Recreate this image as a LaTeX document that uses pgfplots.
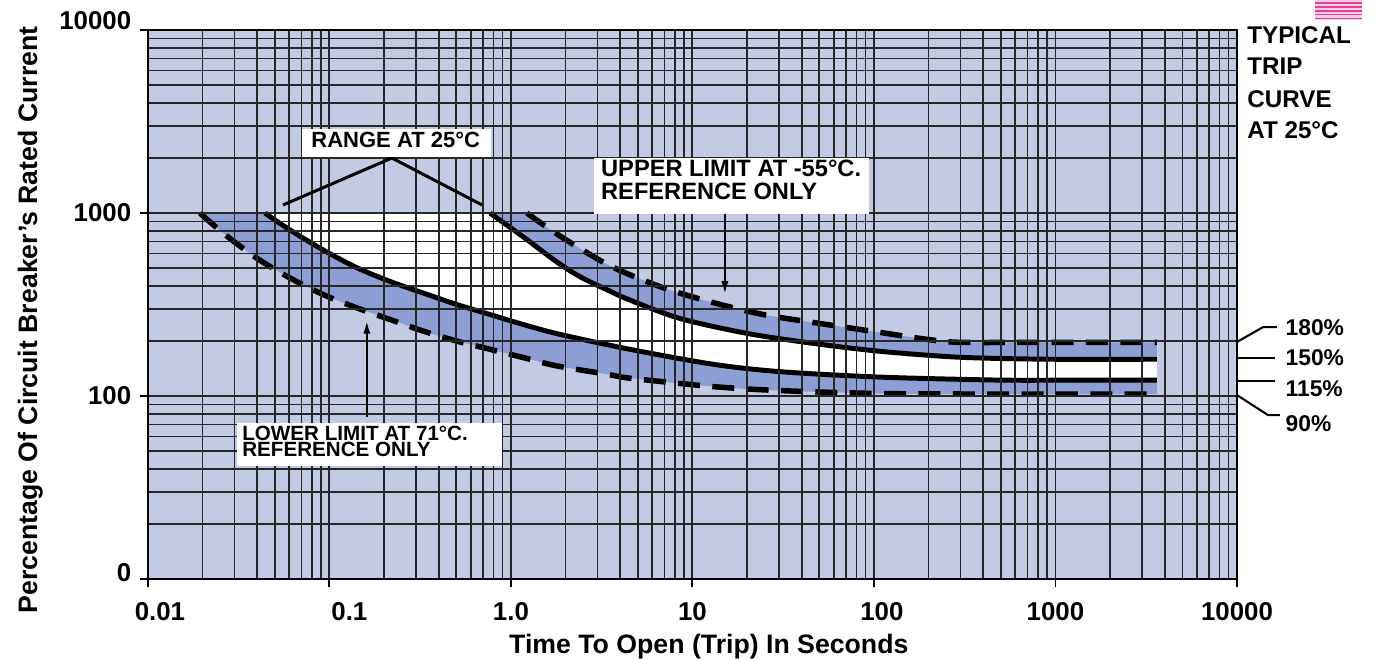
\documentclass[border=0pt]{standalone}
\usepackage{pgfplots}
\pgfplotsset{compat=1.18}
\usepgfplotslibrary{fillbetween}
\usetikzlibrary{arrows.meta}
\usepackage{fontspec}
\setmainfont{Liberation Sans}
\definecolor{bgblue}{RGB}{195,203,228}
\definecolor{bandblue}{RGB}{140,158,212}
\definecolor{pinkline}{RGB}{232,64,150}
\begin{document}
\begin{tikzpicture}
\begin{axis}[
  at={(0pt,0pt)}, anchor=south west,
  scale only axis, width=396pt, height=199.6pt,
  xmode=log, ymode=log,
  xmin=0.01, xmax=10000, ymin=10, ymax=10000,
  axis background/.style={fill=bgblue},
  axis on top,
  grid=both,
  major grid style={black!85, line width=0.7pt},
  minor grid style={black!85, line width=0.6pt},
  axis line style={black, line width=0.7pt},
  xtick={0.01,0.1,1,10,100,1000,10000},
  xticklabels={\hspace{8.7pt}0.01,\hspace{14.5pt}0.1,1.0,10,\hspace{5.8pt}100,1000,10000},
  ytick={10,100,1000,10000},
  yticklabels={\raisebox{5pt}{0},100,1000,\raisebox{7pt}{10000}},
  minor xtick={0.02,0.03,0.04,0.05,0.06,0.07,0.08,0.09,0.2,0.3,0.4,0.5,0.6,0.7,0.8,0.9,2,3,4,5,6,7,8,9,20,30,40,50,60,70,80,90,200,300,400,500,600,700,800,900,2000,3000,4000,5000,6000,7000,8000,9000},
  minor ytick={20,30,40,50,60,70,80,90,200,300,400,500,600,700,800,900,2000,3000,4000,5000,6000,7000,8000,9000},
  tick align=outside, major tick length=3pt, minor tick length=0pt,
  xtick pos=bottom, ytick pos=left,
  tick style={black, line width=0.7pt},
  ticklabel style={font=\bfseries\fontsize{9.4}{10}\selectfont},
  xticklabel style={anchor=base, inner sep=0pt, yshift=-12pt},
  yticklabel style={anchor=east, inner sep=0pt, xshift=-2.9pt},
  xlabel={Time To Open (Trip) In Seconds},
  ylabel={Percentage Of Circuit Breaker’s Rated Current},
  label style={font=\bfseries\fontsize{9.7}{10}\selectfont},
  xlabel style={at={(axis description cs:0.515,-0.124)}, anchor=center},
  ylabel style={at={(axis description cs:-0.108,0.472)}, anchor=center},
]
% lower limit at 71C (dashed)
\addplot[black, line width=2pt, dash pattern=on 8pt off 4.5pt, smooth, name path=LD] coordinates {
(0.01934,1000) (0.02600,775.6) (0.03971,567.3) (0.06059,441.7) (0.09243,358.3) (0.1412,303.5) (0.2154,262.1) (0.3286,226.4) (0.5022,199.8) (0.7663,180.0) (1.169,162.3) (1.785,146.1) (3.368,131.7) (4.524,125.2) (12.97,112.6) (30.35,107.1) (107.9,103.2) (494.6,102.5) (1365,102.5) (3624,102.5)};
% 25C lower (solid)
\addplot[black, line width=1.8pt, smooth, name path=LS] coordinates {
(0.0441,1000) (0.06059,808.5) (0.09209,629.4) (0.1417,502.5) (0.2154,423.2) (0.3274,366.0) (0.5042,316.2) (0.7663,279.0) (1.1644,246.2) (1.862,217.3) (4.524,180.0) (12.97,149.2) (30.35,135.9) (107.9,126.9) (494.6,122.2) (1365,122.2) (3624,122.2)};
% 25C upper (solid)
\addplot[black, line width=1.8pt, smooth, name path=US] coordinates {
(0.7663,1000) (1.1644,743.2) (1.785,541.6) (2.400,449.0) (3.368,381.5) (4.524,334.5) (8.534,265.4) (19.97,220.0) (46.12,194.1) (107.9,175.6) (297.7,162.9) (932.6,158.9) (3624,158.9)};
% upper limit at -55C (dashed)
\addplot[black, line width=2pt, dash pattern=on 8pt off 4.5pt, smooth, name path=UD] coordinates {
(1.225,1000) (1.862,749.9) (3.512,515.2) (6.878,391.2) (12.97,324.3) (24.45,279.0) (46.12,252.5) (107.9,222.7) (195.9,204.1) (297.7,196.6) (932.6,196.6) (3624,196.6)};
\addplot[bandblue] fill between[of=LS and LD];
\addplot[white] fill between[of=LS and US];
\addplot[bandblue] fill between[of=US and UD];
\end{axis}
\begin{pgfonlayer}{axis foreground}
% RANGE AT 25C
\draw[line width=1.1pt] (49.1pt,136pt) -- (88.7pt,153.1pt) -- (121.5pt,136pt);
\fill[white] (56pt,153.5pt) rectangle (124.7pt,163.6pt);
\node[anchor=base, inner sep=0pt, font=\bfseries\fontsize{8}{8}\selectfont] at (90.1pt,156.9pt) {RANGE AT 25°C};
% upper limit box
\fill[white] (162.2pt,132.7pt) rectangle (262.2pt,153.1pt);
\node[anchor=base west, inner sep=0pt, font=\bfseries\fontsize{8.6}{8.6}\selectfont] at (164.6pt,146.5pt) {UPPER LIMIT AT -55°C.};
\node[anchor=base west, inner sep=0pt, font=\bfseries\fontsize{8.6}{8.6}\selectfont] at (164.6pt,138.1pt) {REFERENCE ONLY};
\draw[line width=0.9pt, -{Latex[length=5pt,width=2.6pt]}] (209.8pt,132.7pt) -- (209.8pt,103.3pt);
% lower limit box
\fill[white] (32.4pt,41.1pt) rectangle (128.7pt,56.7pt);
\node[anchor=base west, inner sep=0pt, font=\bfseries\fontsize{7.5}{7.5}\selectfont] at (34.1pt,50.5pt) {LOWER LIMIT AT 71°C.};
\node[anchor=base west, inner sep=0pt, font=\bfseries\fontsize{7.5}{7.5}\selectfont] at (34.1pt,44.5pt) {REFERENCE ONLY};
\draw[line width=0.9pt, -{Latex[length=5pt,width=2.6pt]}] (79.6pt,58.9pt) -- (79.6pt,94.2pt);
% right leaders
\draw[line width=0.75pt] (396pt,86.2pt) -- (405.5pt,91.6pt) -- (410.5pt,91.6pt);
\draw[line width=0.75pt] (396pt,80.4pt) -- (409.8pt,80.4pt);
\draw[line width=0.75pt] (396pt,72pt) -- (409.8pt,72pt);
\draw[line width=0.75pt] (396pt,66.9pt) -- (407.3pt,59.6pt) -- (411.6pt,59.6pt);
\begin{scope}[every node/.style={anchor=base west, inner sep=0pt, font=\bfseries\fontsize{8.3}{8.3}\selectfont}]
\node at (413.5pt,88.7pt) {180\%};
\node at (413.5pt,77.8pt) {150\%};
\node at (413.5pt,66.3pt) {115\%};
\node at (413.5pt,53.6pt) {90\%};
\end{scope}
% typical trip curve
\begin{scope}[every node/.style={anchor=base west, inner sep=0pt, font=\bfseries\fontsize{8.8}{8.8}\selectfont}]
\node at (399.6pt,194.8pt) {TYPICAL};
\node at (399.6pt,183.6pt) {TRIP};
\node at (399.6pt,171.5pt) {CURVE};
\node at (399.6pt,160.3pt) {AT 25°C};
\end{scope}
% pink stripes
\fill[pinkline!25] (424.4pt,203.3pt) rectangle (441.5pt,210.55pt);
\foreach \yy in {203.8,205.2,206.6,208.0,209.4} {\draw[pinkline, line width=0.5pt] (424.4pt,\yy pt) -- (441.5pt,\yy pt);}
\end{pgfonlayer}
\pgfresetboundingbox
\path[use as bounding box] (-53.8pt,-29.45pt) rectangle (446.2pt,210.55pt);
\end{tikzpicture}
\end{document}
